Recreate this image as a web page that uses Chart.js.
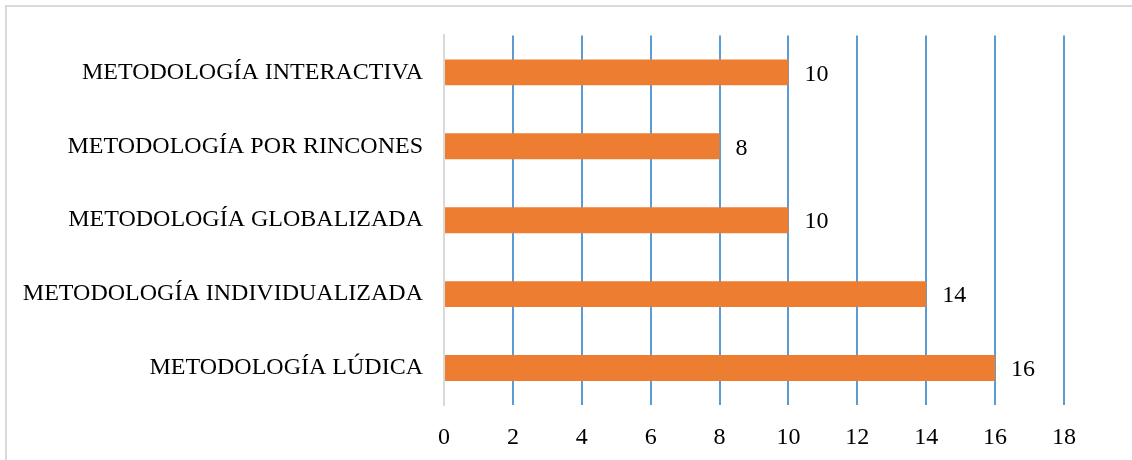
<!DOCTYPE html>
<html>
<head>
<meta charset="utf-8">
<script src="https://cdn.jsdelivr.net/npm/chart.js@4.4.0/dist/chart.umd.min.js"></script>
<style>
  html, body { margin: 0; padding: 0; background: #fff; overflow: hidden; }
  #wrap { position: relative; width: 1132px; height: 460px; }
  #frame { position: absolute; left: 5px; top: 5px; width: 1140px; height: 470px; border: 2px solid #d9d9d9; box-sizing: border-box; pointer-events: none; }
</style>
</head>
<body>
<div id="wrap">
  <canvas id="metodChart" width="1132" height="460"></canvas>
  <div id="frame"></div>
</div>
<script>
// Categories, top to bottom as in the picture
const categorias = [
    'METODOLOGÍA INTERACTIVA',
    'METODOLOGÍA POR RINCONES',
    'METODOLOGÍA GLOBALIZADA',
    'METODOLOGÍA INDIVIDUALIZADA',
    'METODOLOGÍA LÚDICA'
];
const valores = [10, 8, 10, 14, 16];  // Count per methodology
const ticksX = [0, 2, 4, 6, 8, 10, 12, 14, 16, 18];

const fuente = { family: "'Liberation Serif', 'Times New Roman', serif", size: 24 };

// Value label drawn just after the end of each bar
const etiquetas = {
    id: 'etiquetas',
    afterDatasetsDraw(chart) {
        const c = chart.ctx;
        const meta = chart.getDatasetMeta(0);
        c.save();
        c.font = fuente.size + 'px ' + fuente.family;
        c.fillStyle = '#000';
        c.textAlign = 'left';
        c.textBaseline = 'middle';
        meta.data.forEach((bar, i) => {
            c.fillText(String(valores[i]), bar.x + 16, bar.y + 2);
        });
        c.restore();
    }
};

const ctx = document.getElementById('metodChart').getContext('2d');
new Chart(ctx, {
    type: 'bar',
    data: {
        labels: categorias,
        datasets: [{
            data: valores,
            backgroundColor: '#ed7d31',
            categoryPercentage: 1,
            barPercentage: 0.35
        }]
    },
    options: {
        indexAxis: 'y',
        responsive: false,
        animation: false,
        layout: { padding: { top: 35, right: 68, left: 0, bottom: 0 } },
        plugins: { legend: { display: false }, tooltip: { enabled: false } },
        scales: {
            x: {
                min: 0,
                max: 18,
                afterBuildTicks: (scale) => { scale.ticks = ticksX.map(v => ({ value: v })); },
                afterFit: (scale) => { scale.height = 55; },
                border: { display: false },
                grid: {
                    drawTicks: false,
                    lineWidth: 2,
                    color: (c) => c.tick && c.tick.value === 0 ? '#d9d9d9' : '#5b9bd5'
                },
                ticks: { color: '#000', font: fuente, padding: 18 }
            },
            y: {
                afterFit: (scale) => { scale.width = 444; },
                border: { display: true, color: '#d9d9d9', width: 2 },
                grid: { display: false, drawTicks: false },
                ticks: { color: '#000', font: fuente, padding: 21 }
            }
        }
    },
    plugins: [etiquetas]
});
</script>
</body>
</html>
